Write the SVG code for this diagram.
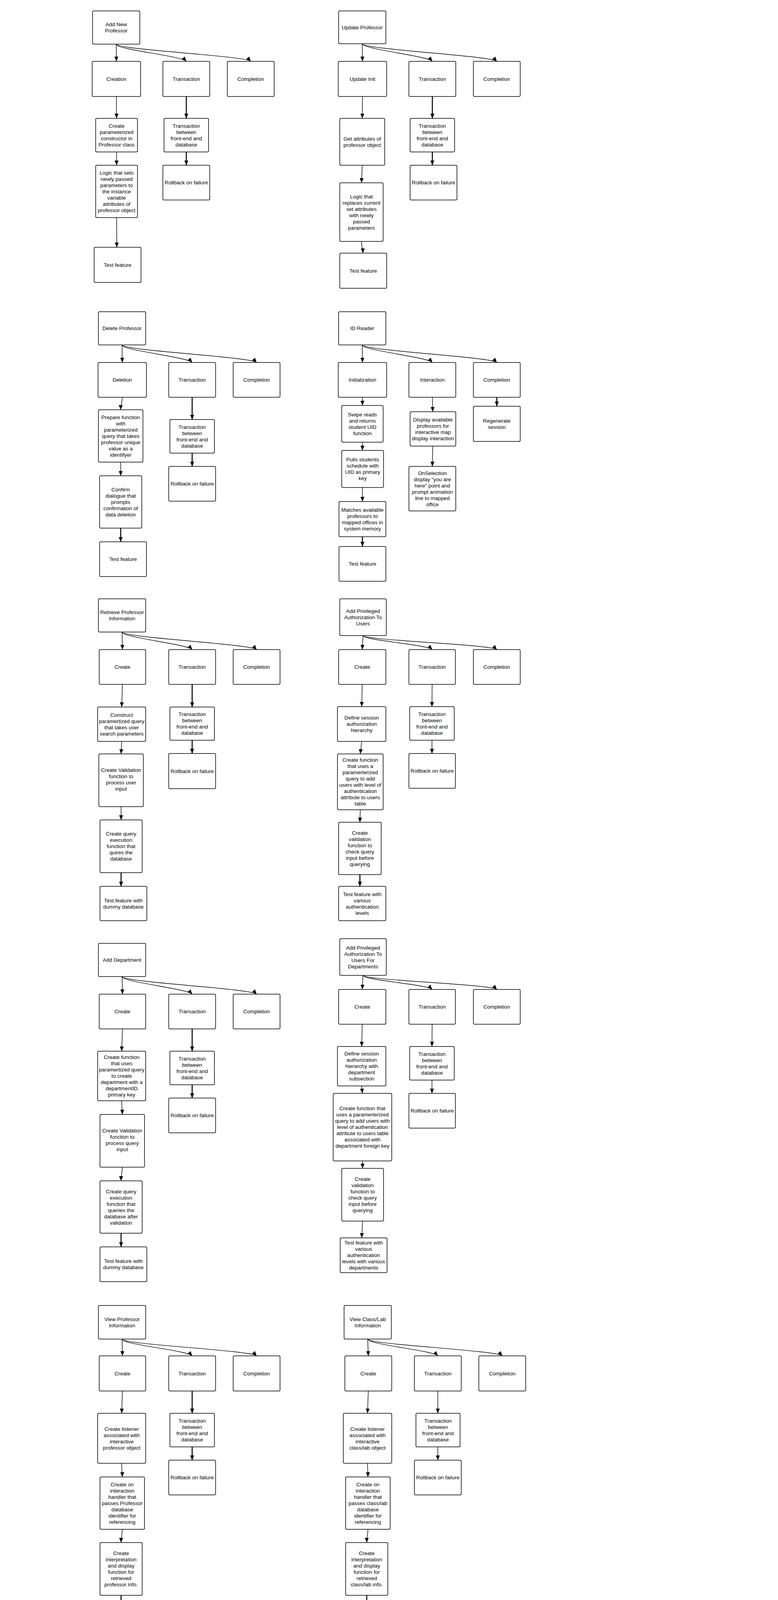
<svg xmlns="http://www.w3.org/2000/svg" width="1992" height="6407" viewBox="0 0 1992 6407">
<style>
.box{fill:#fff;stroke:#000;stroke-width:1.5}
.lbl{font-family:"Liberation Sans",Arial,Helvetica,sans-serif;font-size:13.5px;fill:#000;text-anchor:middle}
.edge{fill:none;stroke:#000;stroke-width:1.4;marker-end:url(#ah)}
.bold{stroke-width:2.6}
</style>
<defs>
<marker id="ah" viewBox="0 0 12 10" refX="12" refY="5" markerWidth="12" markerHeight="10" orient="auto" markerUnits="userSpaceOnUse"><path d="M0,0 L12,5 L0,10 z" fill="#000"/></marker>
</defs>
<rect width="1992" height="6407" fill="#fff"/>

<g id="connectors">
<!-- D1 -->
<path class="edge" d="M297.5,113 L298,157"/>
<path class="edge" d="M297.5,113 C297.5,127 465,143 477,157"/>
<path class="edge" d="M297.5,113 C297.5,127 630,143 642,157"/>
<path class="edge" d="M298,247 L298.5,303"/>
<path class="edge" d="M298.5,389 L298.5,423"/>
<path class="edge" d="M298.5,557 L299,633"/>
<path class="edge bold" d="M477,247 L477,303"/>
<path class="edge bold" d="M477,389 L477,423"/>
<!-- D2 -->
<path class="edge" d="M927.5,112 L928,157"/>
<path class="edge" d="M927.5,112 C927.5,126 1095,143 1107,157"/>
<path class="edge" d="M927.5,112 C927.5,126 1260,143 1272,157"/>
<path class="edge" d="M928,247 L927.5,303"/>
<path class="edge" d="M927.5,423 L925.5,468"/>
<path class="edge" d="M925.5,618 C925.5,630 929,636 929,648"/>
<path class="edge bold" d="M1107,247 L1107,303"/>
<path class="edge bold" d="M1107,389 L1107,423"/>
<!-- D3 -->
<path class="edge" d="M312.5,883 L313,928"/>
<path class="edge" d="M312.5,883 C312.5,897 480,914 492,928"/>
<path class="edge" d="M312.5,883 C312.5,897 645,914 657,928"/>
<path class="edge" d="M313,1017 C313,1032 309,1036 309,1049"/>
<path class="edge" d="M309,1183 L309,1218"/>
<path class="edge bold" d="M309,1352 L309,1387"/>
<path class="edge bold" d="M492,1017 L492,1074"/>
<path class="edge bold" d="M492,1160 L492,1194"/>
<!-- D4 -->
<path class="edge" d="M927.5,883 L928,928"/>
<path class="edge" d="M927.5,883 C927.5,897 1095,914 1107,928"/>
<path class="edge" d="M927.5,883 C927.5,897 1260,914 1272,928"/>
<path class="edge" d="M928,1017 L928,1038"/>
<path class="edge" d="M928,1132 L928,1153"/>
<path class="edge" d="M928,1248 L928,1284"/>
<path class="edge bold" d="M928,1374 L928,1399"/>
<path class="edge" d="M1107,1017 L1108,1054"/>
<path class="edge" d="M1108,1142 L1107,1194"/>
<path class="edge bold" d="M1272,1017 L1272,1040"/>
<!-- D5 -->
<path class="edge" d="M312.5,1618 L313.5,1663"/>
<path class="edge" d="M312.5,1618 C312.5,1632 480,1649 492,1663"/>
<path class="edge" d="M312.5,1618 C312.5,1632 645,1649 657,1663"/>
<path class="edge" d="M313.5,1752 L311.5,1810"/>
<path class="edge" d="M311.5,1898 L310,1930"/>
<path class="edge" d="M310,2065 L310,2099"/>
<path class="edge bold" d="M310,2234 L310,2269"/>
<path class="edge bold" d="M492,1752 L492,1810"/>
<path class="edge bold" d="M492,1895 L492,1929"/>
<!-- D6 -->
<path class="edge" d="M929.5,1627 L927.5,1663"/>
<path class="edge" d="M929.5,1627 C929.5,1639 1094.5,1650 1106.5,1663"/>
<path class="edge" d="M929.5,1627 C929.5,1639 1260,1650 1272,1663"/>
<path class="edge" d="M927.5,1752 L926,1809"/>
<path class="edge" d="M926,1898 L922.5,1930"/>
<path class="edge" d="M922.5,2073 L921.5,2105"/>
<path class="edge bold" d="M921.5,2239 L921.5,2269"/>
<path class="edge" d="M1106.5,1752 L1106,1809"/>
<path class="edge" d="M1106,1895 L1106,1929"/>
<!-- D7 -->
<path class="edge" d="M312.5,2500 L313.5,2545"/>
<path class="edge" d="M312.5,2500 C312.5,2514 480,2531 492,2545"/>
<path class="edge" d="M312.5,2500 C312.5,2514 645,2531 657,2545"/>
<path class="edge" d="M313.5,2634 L311.5,2691"/>
<path class="edge" d="M311.5,2818 C311.5,2832 313,2838 313,2853"/>
<path class="edge" d="M313,2988 C313,3004 310,3008 310,3023"/>
<path class="edge bold" d="M310,3157 L310,3192"/>
<path class="edge bold" d="M492,2634 L492,2691"/>
<path class="edge bold" d="M492,2777 L492,2811"/>
<!-- D8 -->
<path class="edge" d="M929.5,2497 L927.5,2533"/>
<path class="edge" d="M929.5,2497 C929.5,2509 1094.5,2520 1106.5,2533"/>
<path class="edge" d="M929.5,2497 C929.5,2509 1260,2520 1272,2533"/>
<path class="edge" d="M927.5,2622 L926,2679"/>
<path class="edge" d="M926,2780 L928,2799"/>
<path class="edge" d="M928,2972 L928.5,2991"/>
<path class="edge" d="M928.5,3126 L926,3169"/>
<path class="edge" d="M1106.5,2622 L1106,2679"/>
<path class="edge" d="M1106,2765 L1106,2799"/>
<!-- D9 -->
<path class="edge" d="M312.5,3428 L313.5,3471"/>
<path class="edge" d="M312.5,3428 C312.5,3442 480,3457 492,3471"/>
<path class="edge" d="M312.5,3428 C312.5,3442 645,3457 657,3471"/>
<path class="edge" d="M313.5,3561 L311.5,3618"/>
<path class="edge" d="M311.5,3746 C311.5,3762 313,3766 313,3781"/>
<path class="edge" d="M313,3915 C313,3930 310,3934 310,3949"/>
<path class="edge bold" d="M310,4084 L310,4119"/>
<path class="edge bold" d="M492,3561 L492,3618"/>
<path class="edge bold" d="M492,3704 L492,3738"/>
<!-- D10 -->
<path class="edge" d="M941.5,3428 L943,3471"/>
<path class="edge" d="M941.5,3428 C941.5,3442 1109,3457 1121,3471"/>
<path class="edge" d="M941.5,3428 C941.5,3442 1274,3457 1286,3471"/>
<path class="edge" d="M943,3561 L941,3618"/>
<path class="edge" d="M941,3746 C941,3762 942,3766 942,3781"/>
<path class="edge" d="M942,3915 C942,3930 939,3934 939,3949"/>
<path class="edge bold" d="M939,4084 L939,4119"/>
<path class="edge" d="M1121,3561 L1121,3618"/>
<path class="edge" d="M1121,3704 L1121,3738"/>
<!-- D11 -->
<path class="edge" d="M311.5,4357 L313,4402"/>
<path class="edge" d="M311.5,4357 C311.5,4371 479.5,4388 491.5,4402"/>
<path class="edge" d="M311.5,4357 C311.5,4371 644,4388 656,4402"/>
<path class="edge" d="M313,4491 L311,4548"/>
<path class="edge" d="M311,4676 L311,4711"/>
<path class="edge" d="M311,4845 L310.5,4880"/>
<path class="edge" d="M310.5,5036 L310,5083"/>
<path class="edge" d="M491.5,4491 L491.5,4548"/>
<path class="edge" d="M491.5,4634 L491.5,4668"/>
<!-- D12 -->
<path class="edge" d="M941.5,4357 L943,4402"/>
<path class="edge" d="M941.5,4357 C941.5,4371 1109,4388 1121,4402"/>
<path class="edge" d="M941.5,4357 C941.5,4371 1274,4388 1286,4402"/>
<path class="edge" d="M943,4491 L941,4548"/>
<path class="edge bold" d="M941,4675 L939,4733"/>
<path class="edge bold" d="M939,4821 L940,4857"/>
<path class="edge" d="M940,4991 C940,5006 944,5012 944,5028"/>
<path class="edge" d="M944,5186 C944,5204 940,5210 940,5229"/>
<path class="edge" d="M1121,4491 L1121,4548"/>
<path class="edge" d="M1121,4633 L1121,4668"/>
</g>

<!-- D1 Add New Professor -->
<g id="d1-root"><rect class="box" x="237" y="28" width="121" height="85" rx="3"/><text class="lbl" y="67"><tspan x="297.5">Add New</tspan><tspan x="297.5" dy="16">Professor</tspan></text></g>
<g id="d1-creation"><rect class="box" x="236" y="157" width="124" height="90" rx="3"/><text class="lbl" x="298" y="206.5">Creation</text></g>
<g id="d1-transaction"><rect class="box" x="417" y="157" width="120" height="90" rx="3"/><text class="lbl" x="477" y="206.5">Transaction</text></g>
<g id="d1-completion"><rect class="box" x="582" y="157" width="120" height="90" rx="3"/><text class="lbl" x="642" y="206.5">Completion</text></g>
<g id="d1-constructor"><rect class="box" x="245" y="303" width="107" height="86" rx="3"/><text class="lbl" y="326.5"><tspan x="298.5">Create</tspan><tspan x="298.5" dy="16">parameterized</tspan><tspan x="298.5" dy="16">constructor in</tspan><tspan x="298.5" dy="16">Professor class</tspan></text></g>
<g id="d1-logic"><rect class="box" x="245" y="423" width="107" height="134" rx="3"/><text class="lbl" y="446.5"><tspan x="298.5">Logic that sets</tspan><tspan x="298.5" dy="16">newly passed</tspan><tspan x="298.5" dy="16">parameters to</tspan><tspan x="298.5" dy="16">the instance</tspan><tspan x="298.5" dy="16">variable</tspan><tspan x="298.5" dy="16">attributes of</tspan><tspan x="298.5" dy="16">professor object</tspan></text></g>
<g id="d1-test"><rect class="box" x="241" y="633" width="120" height="90" rx="3"/><text class="lbl" x="301" y="682.5">Test feature</text></g>
<g id="d1-tx-between"><rect class="box" x="420" y="303" width="114" height="86" rx="3"/><text class="lbl" y="326.5"><tspan x="477">Transaction</tspan><tspan x="477" dy="16">between</tspan><tspan x="477" dy="16">front-end and</tspan><tspan x="477" dy="16">database</tspan></text></g>
<g id="d1-rollback"><rect class="box" x="417" y="423" width="120" height="89" rx="3"/><text class="lbl" x="477" y="472">Rollback on failure</text></g>

<!-- D2 Update Professor -->
<g id="d2-root"><rect class="box" x="867" y="28" width="121" height="84" rx="3"/><text class="lbl" x="927.5" y="74.5">Update Professor</text></g>
<g id="d2-init"><rect class="box" x="866" y="157" width="124" height="90" rx="3"/><text class="lbl" x="928" y="206.5">Update Init</text></g>
<g id="d2-transaction"><rect class="box" x="1047" y="157" width="120" height="90" rx="3"/><text class="lbl" x="1107" y="206.5">Transaction</text></g>
<g id="d2-completion"><rect class="box" x="1212" y="157" width="120" height="90" rx="3"/><text class="lbl" x="1272" y="206.5">Completion</text></g>
<g id="d2-get"><rect class="box" x="870" y="303" width="115" height="120" rx="3"/><text class="lbl" y="359.5"><tspan x="927.5">Get attributes of</tspan><tspan x="927.5" dy="16">professor object</tspan></text></g>
<g id="d2-logic"><rect class="box" x="870" y="468" width="111" height="150" rx="3"/><text class="lbl" y="507.5"><tspan x="925.5">Logic that</tspan><tspan x="925.5" dy="16">replaces current</tspan><tspan x="925.5" dy="16">set attributes</tspan><tspan x="925.5" dy="16">with newly</tspan><tspan x="925.5" dy="16">passed</tspan><tspan x="925.5" dy="16">parameters</tspan></text></g>
<g id="d2-test"><rect class="box" x="870" y="648" width="120" height="90" rx="3"/><text class="lbl" x="930" y="697.5">Test feature</text></g>
<g id="d2-tx-between"><rect class="box" x="1050" y="303" width="114" height="86" rx="3"/><text class="lbl" y="326.5"><tspan x="1107">Transaction</tspan><tspan x="1107" dy="16">between</tspan><tspan x="1107" dy="16">front-end and</tspan><tspan x="1107" dy="16">database</tspan></text></g>
<g id="d2-rollback"><rect class="box" x="1050" y="423" width="120" height="89" rx="3"/><text class="lbl" x="1110" y="472">Rollback on failure</text></g>

<!-- D3 Delete Professor -->
<g id="d3-root"><rect class="box" x="252" y="798" width="121" height="85" rx="3"/><text class="lbl" x="312.5" y="845">Delete Professor</text></g>
<g id="d3-deletion"><rect class="box" x="251" y="928" width="124" height="89" rx="3"/><text class="lbl" x="313" y="977">Deletion</text></g>
<g id="d3-transaction"><rect class="box" x="432" y="928" width="120" height="89" rx="3"/><text class="lbl" x="492" y="977">Transaction</text></g>
<g id="d3-completion"><rect class="box" x="597" y="928" width="120" height="89" rx="3"/><text class="lbl" x="657" y="977">Completion</text></g>
<g id="d3-prepare"><rect class="box" x="252" y="1049" width="114" height="134" rx="3"/><text class="lbl" y="1072.5"><tspan x="309">Prepare function</tspan><tspan x="309" dy="16">with</tspan><tspan x="309" dy="16">parameterized</tspan><tspan x="309" dy="16">query that takes</tspan><tspan x="309" dy="16">professor unique</tspan><tspan x="309" dy="16">value as a</tspan><tspan x="309" dy="16">identifyer</tspan></text></g>
<g id="d3-confirm"><rect class="box" x="255" y="1218" width="108" height="134" rx="3"/><text class="lbl" y="1257.5"><tspan x="309">Confirm</tspan><tspan x="309" dy="16">dialogue that</tspan><tspan x="309" dy="16">prompts</tspan><tspan x="309" dy="16">confirmation of</tspan><tspan x="309" dy="16">data deletion</tspan></text></g>
<g id="d3-test"><rect class="box" x="255" y="1387" width="120" height="89" rx="3"/><text class="lbl" x="315" y="1436">Test feature</text></g>
<g id="d3-tx-between"><rect class="box" x="435" y="1074" width="114" height="86" rx="3"/><text class="lbl" y="1097.5"><tspan x="492">Transaction</tspan><tspan x="492" dy="16">between</tspan><tspan x="492" dy="16">front-end and</tspan><tspan x="492" dy="16">database</tspan></text></g>
<g id="d3-rollback"><rect class="box" x="432" y="1194" width="120" height="89" rx="3"/><text class="lbl" x="492" y="1243">Rollback on failure</text></g>

<!-- D4 ID Reader -->
<g id="d4-root"><rect class="box" x="867" y="798" width="121" height="85" rx="3"/><text class="lbl" x="927.5" y="845">ID Reader</text></g>
<g id="d4-init"><rect class="box" x="866" y="928" width="124" height="89" rx="3"/><text class="lbl" x="928" y="977">Initialization</text></g>
<g id="d4-interaction"><rect class="box" x="1047" y="928" width="120" height="89" rx="3"/><text class="lbl" x="1107" y="977">Interaction</text></g>
<g id="d4-completion"><rect class="box" x="1212" y="928" width="120" height="89" rx="3"/><text class="lbl" x="1272" y="977">Completion</text></g>
<g id="d4-swipe"><rect class="box" x="875" y="1038" width="106" height="94" rx="3"/><text class="lbl" y="1065.5"><tspan x="928">Swipe reads</tspan><tspan x="928" dy="16">and returns</tspan><tspan x="928" dy="16">student UID</tspan><tspan x="928" dy="16">function</tspan></text></g>
<g id="d4-pulls"><rect class="box" x="875" y="1153" width="107" height="95" rx="3"/><text class="lbl" y="1181"><tspan x="928.5">Pulls students</tspan><tspan x="928.5" dy="16">schedule with</tspan><tspan x="928.5" dy="16">UID as primary</tspan><tspan x="928.5" dy="16">key</tspan></text></g>
<g id="d4-matches"><rect class="box" x="868" y="1284" width="120" height="90" rx="3"/><text class="lbl" y="1309.5"><tspan x="928">Matches available</tspan><tspan x="928" dy="16">professors to</tspan><tspan x="928" dy="16">mapped offices in</tspan><tspan x="928" dy="16">system memory</tspan></text></g>
<g id="d4-test"><rect class="box" x="868" y="1399" width="120" height="89" rx="3"/><text class="lbl" x="928" y="1448">Test feature</text></g>
<g id="d4-display"><rect class="box" x="1050" y="1054" width="117" height="88" rx="3"/><text class="lbl" y="1078.5"><tspan x="1108.5">Display available</tspan><tspan x="1108.5" dy="16">professors for</tspan><tspan x="1108.5" dy="16">interactive map</tspan><tspan x="1108.5" dy="16">display interaction</tspan></text></g>
<g id="d4-onselection"><rect class="box" x="1047" y="1194" width="120" height="114" rx="3"/><text class="lbl" y="1215.5"><tspan x="1107">OnSelection</tspan><tspan x="1107" dy="16">display "you are</tspan><tspan x="1107" dy="16">here" point and</tspan><tspan x="1107" dy="16">prompt animation</tspan><tspan x="1107" dy="16">line to mapped</tspan><tspan x="1107" dy="16">office</tspan></text></g>
<g id="d4-regenerate"><rect class="box" x="1212" y="1040" width="120" height="90" rx="3"/><text class="lbl" y="1081.5"><tspan x="1272">Regenerate</tspan><tspan x="1272" dy="16">session</tspan></text></g>

<!-- D5 Retrieve Professor Information -->
<g id="d5-root"><rect class="box" x="252" y="1533" width="121" height="85" rx="3"/><text class="lbl" y="1572"><tspan x="312.5">Retrieve Professor</tspan><tspan x="312.5" dy="16">Information</tspan></text></g>
<g id="d5-create"><rect class="box" x="254" y="1663" width="119" height="89" rx="3"/><text class="lbl" x="313.5" y="1712">Create</text></g>
<g id="d5-transaction"><rect class="box" x="432" y="1663" width="120" height="89" rx="3"/><text class="lbl" x="492" y="1712">Transaction</text></g>
<g id="d5-completion"><rect class="box" x="597" y="1663" width="120" height="89" rx="3"/><text class="lbl" x="657" y="1712">Completion</text></g>
<g id="d5-construct"><rect class="box" x="250" y="1810" width="123" height="88" rx="3"/><text class="lbl" y="1834.5"><tspan x="311.5">Construct</tspan><tspan x="311.5" dy="16">paramertized query</tspan><tspan x="311.5" dy="16">that takes user</tspan><tspan x="311.5" dy="16">search parameters</tspan></text></g>
<g id="d5-validation"><rect class="box" x="253" y="1930" width="114" height="135" rx="3"/><text class="lbl" y="1976"><tspan x="310">Create Validation</tspan><tspan x="310" dy="16">function to</tspan><tspan x="310" dy="16">process user</tspan><tspan x="310" dy="16">input</tspan></text></g>
<g id="d5-query"><rect class="box" x="256" y="2099" width="108" height="135" rx="3"/><text class="lbl" y="2139"><tspan x="310">Create query</tspan><tspan x="310" dy="16">execution</tspan><tspan x="310" dy="16">function that</tspan><tspan x="310" dy="16">quires the</tspan><tspan x="310" dy="16">database</tspan></text></g>
<g id="d5-test"><rect class="box" x="256" y="2269" width="120" height="88" rx="3"/><text class="lbl" y="2309.5"><tspan x="316">Test feature with</tspan><tspan x="316" dy="16">dummy database</tspan></text></g>
<g id="d5-tx-between"><rect class="box" x="435" y="1810" width="114" height="85" rx="3"/><text class="lbl" y="1833"><tspan x="492">Transaction</tspan><tspan x="492" dy="16">between</tspan><tspan x="492" dy="16">front-end and</tspan><tspan x="492" dy="16">database</tspan></text></g>
<g id="d5-rollback"><rect class="box" x="432" y="1929" width="120" height="90" rx="3"/><text class="lbl" x="492" y="1978.5">Rollback on failure</text></g>

<!-- D6 Add Privileged Authorization To Users -->
<g id="d6-root"><rect class="box" x="870" y="1533" width="119" height="94" rx="3"/><text class="lbl" y="1568.5"><tspan x="929.5">Add Privileged</tspan><tspan x="929.5" dy="16">Authorization To</tspan><tspan x="929.5" dy="16">Users</tspan></text></g>
<g id="d6-create"><rect class="box" x="867" y="1663" width="121" height="89" rx="3"/><text class="lbl" x="927.5" y="1712">Create</text></g>
<g id="d6-transaction"><rect class="box" x="1047" y="1663" width="119" height="89" rx="3"/><text class="lbl" x="1106.5" y="1712">Transaction</text></g>
<g id="d6-completion"><rect class="box" x="1212" y="1663" width="120" height="89" rx="3"/><text class="lbl" x="1272" y="1712">Completion</text></g>
<g id="d6-define"><rect class="box" x="864" y="1809" width="124" height="89" rx="3"/><text class="lbl" y="1842"><tspan x="926">Define session</tspan><tspan x="926" dy="16">authorization</tspan><tspan x="926" dy="16">hierarchy</tspan></text></g>
<g id="d6-function"><rect class="box" x="864" y="1930" width="117" height="143" rx="3"/><text class="lbl" y="1950"><tspan x="922.5">Create function</tspan><tspan x="922.5" dy="16">that uses a</tspan><tspan x="922.5" dy="16">paramerterized</tspan><tspan x="922.5" dy="16">query to add</tspan><tspan x="922.5" dy="16">users with level of</tspan><tspan x="922.5" dy="16">authentication</tspan><tspan x="922.5" dy="16">attribute to users</tspan><tspan x="922.5" dy="16">table</tspan></text></g>
<g id="d6-validation"><rect class="box" x="867" y="2105" width="109" height="134" rx="3"/><text class="lbl" y="2136.5"><tspan x="921.5">Create</tspan><tspan x="921.5" dy="16">validation</tspan><tspan x="921.5" dy="16">function to</tspan><tspan x="921.5" dy="16">check query</tspan><tspan x="921.5" dy="16">input before</tspan><tspan x="921.5" dy="16">querying</tspan></text></g>
<g id="d6-test"><rect class="box" x="867" y="2269" width="121" height="88" rx="3"/><text class="lbl" y="2293.5"><tspan x="927.5">Test feature with</tspan><tspan x="927.5" dy="16">various</tspan><tspan x="927.5" dy="16">authentication</tspan><tspan x="927.5" dy="16">levels</tspan></text></g>
<g id="d6-tx-between"><rect class="box" x="1049" y="1809" width="114" height="86" rx="3"/><text class="lbl" y="1832.5"><tspan x="1106">Transaction</tspan><tspan x="1106" dy="16">between</tspan><tspan x="1106" dy="16">front-end and</tspan><tspan x="1106" dy="16">database</tspan></text></g>
<g id="d6-rollback"><rect class="box" x="1047" y="1929" width="119" height="89" rx="3"/><text class="lbl" x="1106.5" y="1978">Rollback on failure</text></g>

<!-- D7 Add Department -->
<g id="d7-root"><rect class="box" x="252" y="2415" width="121" height="85" rx="3"/><text class="lbl" x="312.5" y="2462">Add Department</text></g>
<g id="d7-create"><rect class="box" x="254" y="2545" width="119" height="89" rx="3"/><text class="lbl" x="313.5" y="2594">Create</text></g>
<g id="d7-transaction"><rect class="box" x="432" y="2545" width="120" height="89" rx="3"/><text class="lbl" x="492" y="2594">Transaction</text></g>
<g id="d7-completion"><rect class="box" x="597" y="2545" width="120" height="89" rx="3"/><text class="lbl" x="657" y="2594">Completion</text></g>
<g id="d7-function"><rect class="box" x="250" y="2691" width="123" height="127" rx="3"/><text class="lbl" y="2711"><tspan x="311.5">Create function</tspan><tspan x="311.5" dy="16">that uses</tspan><tspan x="311.5" dy="16">paramertized query</tspan><tspan x="311.5" dy="16">to create</tspan><tspan x="311.5" dy="16">department with a</tspan><tspan x="311.5" dy="16">departmentID</tspan><tspan x="311.5" dy="16">primary key</tspan></text></g>
<g id="d7-validation"><rect class="box" x="256" y="2853" width="114" height="135" rx="3"/><text class="lbl" y="2899"><tspan x="313">Create Validation</tspan><tspan x="313" dy="16">function to</tspan><tspan x="313" dy="16">process query</tspan><tspan x="313" dy="16">input</tspan></text></g>
<g id="d7-query"><rect class="box" x="256" y="3023" width="108" height="134" rx="3"/><text class="lbl" y="3054.5"><tspan x="310">Create query</tspan><tspan x="310" dy="16">execution</tspan><tspan x="310" dy="16">function that</tspan><tspan x="310" dy="16">queries the</tspan><tspan x="310" dy="16">database after</tspan><tspan x="310" dy="16">validation</tspan></text></g>
<g id="d7-test"><rect class="box" x="256" y="3192" width="120" height="89" rx="3"/><text class="lbl" y="3233"><tspan x="316">Test feature with</tspan><tspan x="316" dy="16">dummy database</tspan></text></g>
<g id="d7-tx-between"><rect class="box" x="435" y="2691" width="114" height="86" rx="3"/><text class="lbl" y="2714.5"><tspan x="492">Transaction</tspan><tspan x="492" dy="16">between</tspan><tspan x="492" dy="16">front-end and</tspan><tspan x="492" dy="16">database</tspan></text></g>
<g id="d7-rollback"><rect class="box" x="432" y="2811" width="120" height="89" rx="3"/><text class="lbl" x="492" y="2860">Rollback on failure</text></g>

<!-- D8 Add Privileged Authorization To Users For Departments -->
<g id="d8-root"><rect class="box" x="870" y="2403" width="119" height="94" rx="3"/><text class="lbl" y="2430.5"><tspan x="929.5">Add Privileged</tspan><tspan x="929.5" dy="16">Authorization To</tspan><tspan x="929.5" dy="16">Users For</tspan><tspan x="929.5" dy="16">Departments</tspan></text></g>
<g id="d8-create"><rect class="box" x="867" y="2533" width="121" height="89" rx="3"/><text class="lbl" x="927.5" y="2582">Create</text></g>
<g id="d8-transaction"><rect class="box" x="1047" y="2533" width="119" height="89" rx="3"/><text class="lbl" x="1106.5" y="2582">Transaction</text></g>
<g id="d8-completion"><rect class="box" x="1212" y="2533" width="120" height="89" rx="3"/><text class="lbl" x="1272" y="2582">Completion</text></g>
<g id="d8-define"><rect class="box" x="864" y="2679" width="124" height="101" rx="3"/><text class="lbl" y="2702"><tspan x="926">Define session</tspan><tspan x="926" dy="16">authorization</tspan><tspan x="926" dy="16">hierarchy with</tspan><tspan x="926" dy="16">department</tspan><tspan x="926" dy="16">subsection</tspan></text></g>
<g id="d8-function"><rect class="box" x="853" y="2799" width="150" height="173" rx="3"/><text class="lbl" y="2842"><tspan x="928">Create function that</tspan><tspan x="928" dy="16">uses a paramerterized</tspan><tspan x="928" dy="16">query to add users with</tspan><tspan x="928" dy="16">level of authentication</tspan><tspan x="928" dy="16">attribute to users table</tspan><tspan x="928" dy="16">associated with</tspan><tspan x="928" dy="16">department foreign key</tspan></text></g>
<g id="d8-validation"><rect class="box" x="875" y="2991" width="107" height="135" rx="3"/><text class="lbl" y="3023"><tspan x="928.5">Create</tspan><tspan x="928.5" dy="16">validation</tspan><tspan x="928.5" dy="16">function to</tspan><tspan x="928.5" dy="16">check query</tspan><tspan x="928.5" dy="16">input before</tspan><tspan x="928.5" dy="16">querying</tspan></text></g>
<g id="d8-test"><rect class="box" x="871" y="3169" width="120" height="89" rx="3"/><text class="lbl" y="3186"><tspan x="931">Test feature with</tspan><tspan x="931" dy="16">various</tspan><tspan x="931" dy="16">authentication</tspan><tspan x="931" dy="16">levels with various</tspan><tspan x="931" dy="16">departments</tspan></text></g>
<g id="d8-tx-between"><rect class="box" x="1049" y="2679" width="114" height="86" rx="3"/><text class="lbl" y="2702.5"><tspan x="1106">Transaction</tspan><tspan x="1106" dy="16">between</tspan><tspan x="1106" dy="16">front-end and</tspan><tspan x="1106" dy="16">database</tspan></text></g>
<g id="d8-rollback"><rect class="box" x="1047" y="2799" width="119" height="89" rx="3"/><text class="lbl" x="1106.5" y="2848">Rollback on failure</text></g>

<!-- D9 View Professor Information -->
<g id="d9-root"><rect class="box" x="252" y="3342" width="121" height="86" rx="3"/><text class="lbl" y="3381.5"><tspan x="312.5">View Professor</tspan><tspan x="312.5" dy="16">Information</tspan></text></g>
<g id="d9-create"><rect class="box" x="254" y="3471" width="119" height="90" rx="3"/><text class="lbl" x="313.5" y="3520.5">Create</text></g>
<g id="d9-transaction"><rect class="box" x="432" y="3471" width="120" height="90" rx="3"/><text class="lbl" x="492" y="3520.5">Transaction</text></g>
<g id="d9-completion"><rect class="box" x="597" y="3471" width="120" height="90" rx="3"/><text class="lbl" x="657" y="3520.5">Completion</text></g>
<g id="d9-listener"><rect class="box" x="250" y="3618" width="123" height="128" rx="3"/><text class="lbl" y="3662.5"><tspan x="311.5">Create listener</tspan><tspan x="311.5" dy="16">associated with</tspan><tspan x="311.5" dy="16">interactive</tspan><tspan x="311.5" dy="16">professor object</tspan></text></g>
<g id="d9-handler"><rect class="box" x="256" y="3781" width="114" height="134" rx="3"/><text class="lbl" y="3804.5"><tspan x="313">Create on</tspan><tspan x="313" dy="16">interaction</tspan><tspan x="313" dy="16">handler that</tspan><tspan x="313" dy="16">passes Professor</tspan><tspan x="313" dy="16">database</tspan><tspan x="313" dy="16">identifier for</tspan><tspan x="313" dy="16">referencing</tspan></text></g>
<g id="d9-interp"><rect class="box" x="256" y="3949" width="108" height="135" rx="3"/><text class="lbl" y="3981"><tspan x="310">Create</tspan><tspan x="310" dy="16">interpretation</tspan><tspan x="310" dy="16">and display</tspan><tspan x="310" dy="16">function for</tspan><tspan x="310" dy="16">retrieved</tspan><tspan x="310" dy="16">professor info.</tspan></text></g>
<g id="d9-test"><rect class="box" x="256" y="4119" width="120" height="89" rx="3"/><text class="lbl" y="4160"><tspan x="316">Test feature with</tspan><tspan x="316" dy="16">dummy database</tspan></text></g>
<g id="d9-tx-between"><rect class="box" x="435" y="3618" width="114" height="86" rx="3"/><text class="lbl" y="3641.5"><tspan x="492">Transaction</tspan><tspan x="492" dy="16">between</tspan><tspan x="492" dy="16">front-end and</tspan><tspan x="492" dy="16">database</tspan></text></g>
<g id="d9-rollback"><rect class="box" x="432" y="3738" width="120" height="89" rx="3"/><text class="lbl" x="492" y="3787">Rollback on failure</text></g>

<!-- D10 View Class/Lab Information -->
<g id="d10-root"><rect class="box" x="881" y="3342" width="121" height="86" rx="3"/><text class="lbl" y="3381.5"><tspan x="941.5">View Class/Lab</tspan><tspan x="941.5" dy="16">Information</tspan></text></g>
<g id="d10-create"><rect class="box" x="883" y="3471" width="120" height="90" rx="3"/><text class="lbl" x="943" y="3520.5">Create</text></g>
<g id="d10-transaction"><rect class="box" x="1061" y="3471" width="120" height="90" rx="3"/><text class="lbl" x="1121" y="3520.5">Transaction</text></g>
<g id="d10-completion"><rect class="box" x="1226" y="3471" width="120" height="90" rx="3"/><text class="lbl" x="1286" y="3520.5">Completion</text></g>
<g id="d10-listener"><rect class="box" x="879" y="3618" width="124" height="128" rx="3"/><text class="lbl" y="3662.5"><tspan x="941">Create listener</tspan><tspan x="941" dy="16">associated with</tspan><tspan x="941" dy="16">interactive</tspan><tspan x="941" dy="16">class/lab object</tspan></text></g>
<g id="d10-handler"><rect class="box" x="885" y="3781" width="114" height="134" rx="3"/><text class="lbl" y="3804.5"><tspan x="942">Create on</tspan><tspan x="942" dy="16">interaction</tspan><tspan x="942" dy="16">handler that</tspan><tspan x="942" dy="16">passes class/lab</tspan><tspan x="942" dy="16">database</tspan><tspan x="942" dy="16">identifier for</tspan><tspan x="942" dy="16">referencing</tspan></text></g>
<g id="d10-interp"><rect class="box" x="885" y="3949" width="108" height="135" rx="3"/><text class="lbl" y="3981"><tspan x="939">Create</tspan><tspan x="939" dy="16">interpretation</tspan><tspan x="939" dy="16">and display</tspan><tspan x="939" dy="16">function for</tspan><tspan x="939" dy="16">retrieved</tspan><tspan x="939" dy="16">class/lab info.</tspan></text></g>
<g id="d10-test"><rect class="box" x="885" y="4119" width="120" height="89" rx="3"/><text class="lbl" y="4160"><tspan x="945">Test feature with</tspan><tspan x="945" dy="16">dummy database</tspan></text></g>
<g id="d10-tx-between"><rect class="box" x="1065" y="3618" width="113" height="86" rx="3"/><text class="lbl" y="3641.5"><tspan x="1121.5">Transaction</tspan><tspan x="1121.5" dy="16">between</tspan><tspan x="1121.5" dy="16">front-end and</tspan><tspan x="1121.5" dy="16">database</tspan></text></g>
<g id="d10-rollback"><rect class="box" x="1061" y="3738" width="120" height="89" rx="3"/><text class="lbl" x="1121" y="3787">Rollback on failure</text></g>

<!-- D11 View Map -->
<g id="d11-root"><rect class="box" x="251" y="4272" width="121" height="85" rx="3"/><text class="lbl" x="311.5" y="4319">View Map</text></g>
<g id="d11-create"><rect class="box" x="253" y="4402" width="120" height="89" rx="3"/><text class="lbl" x="313" y="4451">Create</text></g>
<g id="d11-transaction"><rect class="box" x="432" y="4402" width="119" height="89" rx="3"/><text class="lbl" x="491.5" y="4451">Transaction</text></g>
<g id="d11-completion"><rect class="box" x="596" y="4402" width="120" height="89" rx="3"/><text class="lbl" x="656" y="4451">Completion</text></g>
<g id="d11-listener"><rect class="box" x="249" y="4548" width="124" height="128" rx="3"/><text class="lbl" y="4592.5"><tspan x="311">Create listener</tspan><tspan x="311" dy="16">associated with</tspan><tspan x="311" dy="16">interactive Map</tspan><tspan x="311" dy="16">view object</tspan></text></g>
<g id="d11-handler"><rect class="box" x="253" y="4711" width="117" height="134" rx="3"/><text class="lbl" y="4734.5"><tspan x="311.5">Create on</tspan><tspan x="311.5" dy="16">interaction</tspan><tspan x="311.5" dy="16">handler that</tspan><tspan x="311.5" dy="16">passes Map</tspan><tspan x="311.5" dy="16">database</tspan><tspan x="311.5" dy="16">identifier for</tspan><tspan x="311.5" dy="16">referencing</tspan></text></g>
<g id="d11-interp"><rect class="box" x="253" y="4880" width="115" height="156" rx="3"/><text class="lbl" y="4906.5"><tspan x="310.5">Create</tspan><tspan x="310.5" dy="16">interpretation and</tspan><tspan x="310.5" dy="16">display function</tspan><tspan x="310.5" dy="16">for retrieved</tspan><tspan x="310.5" dy="16">map. Map map</tspan><tspan x="310.5" dy="16">locations to</tspan><tspan x="310.5" dy="16">reference as</tspan><tspan x="310.5" dy="16">interactive objects</tspan></text></g>
<g id="d11-test"><rect class="box" x="255" y="5083" width="120" height="88" rx="3"/><text class="lbl" y="5123.5"><tspan x="315">Test feature with</tspan><tspan x="315" dy="16">dummy database</tspan></text></g>
<g id="d11-tx-between"><rect class="box" x="435" y="4548" width="113" height="86" rx="3"/><text class="lbl" y="4571.5"><tspan x="491.5">Transaction</tspan><tspan x="491.5" dy="16">between</tspan><tspan x="491.5" dy="16">front-end and</tspan><tspan x="491.5" dy="16">database</tspan></text></g>
<g id="d11-rollback"><rect class="box" x="432" y="4668" width="119" height="89" rx="3"/><text class="lbl" x="491.5" y="4717">Rollback on failure</text></g>

<!-- D12 View Map On Mobile -->
<g id="d12-root"><rect class="box" x="881" y="4272" width="121" height="85" rx="3"/><text class="lbl" y="4311"><tspan x="941.5">View Map On</tspan><tspan x="941.5" dy="16">Mobile</tspan></text></g>
<g id="d12-create"><rect class="box" x="883" y="4402" width="120" height="89" rx="3"/><text class="lbl" x="943" y="4451">Create</text></g>
<g id="d12-transaction"><rect class="box" x="1061" y="4402" width="120" height="89" rx="3"/><text class="lbl" x="1121" y="4451">Transaction</text></g>
<g id="d12-completion"><rect class="box" x="1226" y="4402" width="120" height="89" rx="3"/><text class="lbl" x="1286" y="4451">Completion</text></g>
<g id="d12-listener"><rect class="box" x="879" y="4548" width="124" height="127" rx="3"/><text class="lbl" y="4592"><tspan x="941">Create listener</tspan><tspan x="941" dy="16">associated with</tspan><tspan x="941" dy="16">interactive Map</tspan><tspan x="941" dy="16">view object</tspan></text></g>
<g id="d12-media"><rect class="box" x="879" y="4733" width="120" height="88" rx="3"/><text class="lbl" y="4765.5"><tspan x="939">Create media</tspan><tspan x="939" dy="16">query trigger to</tspan><tspan x="939" dy="16">scale assets</tspan></text></g>
<g id="d12-handler"><rect class="box" x="881" y="4857" width="118" height="134" rx="3"/><text class="lbl" y="4880.5"><tspan x="940">Create on</tspan><tspan x="940" dy="16">interaction</tspan><tspan x="940" dy="16">handler that</tspan><tspan x="940" dy="16">passes Map</tspan><tspan x="940" dy="16">database</tspan><tspan x="940" dy="16">identifier for</tspan><tspan x="940" dy="16">referencing</tspan></text></g>
<g id="d12-interp"><rect class="box" x="883" y="5028" width="122" height="158" rx="3"/><text class="lbl" y="5047.5" xml:space="preserve"><tspan x="944">Create</tspan><tspan x="944" dy="16">interpretation and</tspan><tspan x="944" dy="16">display function for</tspan><tspan x="944" dy="16">retrieved  map with</tspan><tspan x="944" dy="16">media query</tspan><tspan x="944" dy="16">scaled assests.</tspan><tspan x="944" dy="16">Map map locations</tspan><tspan x="944" dy="16">to reference as</tspan><tspan x="944" dy="16">interactive objects</tspan></text></g>
<g id="d12-test"><rect class="box" x="886" y="5229" width="120" height="88" rx="3"/><text class="lbl" y="5269.5"><tspan x="946">Test feature with</tspan><tspan x="946" dy="16">dummy database</tspan></text></g>
<g id="d12-tx-between"><rect class="box" x="1065" y="4548" width="113" height="85" rx="3"/><text class="lbl" y="4571"><tspan x="1121.5">Transaction</tspan><tspan x="1121.5" dy="16">between</tspan><tspan x="1121.5" dy="16">front-end and</tspan><tspan x="1121.5" dy="16">database</tspan></text></g>
<g id="d12-rollback"><rect class="box" x="1061" y="4668" width="120" height="89" rx="3"/><text class="lbl" x="1121" y="4717">Rollback on failure</text></g>
</svg>
